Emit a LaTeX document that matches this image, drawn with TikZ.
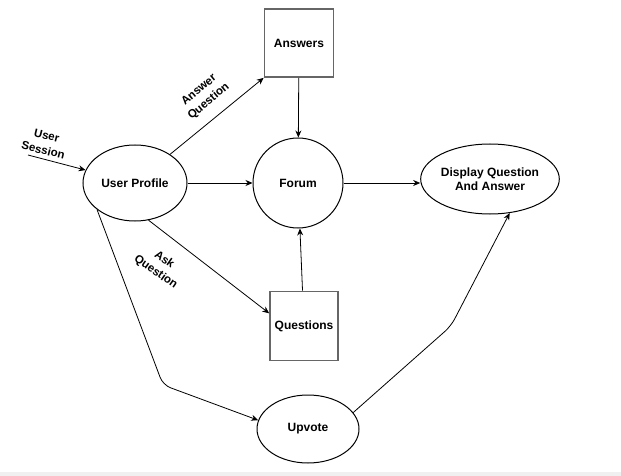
\documentclass[tikz,border=0pt]{standalone}
\usepackage{fontspec}
\setmainfont{Liberation Sans}
\usetikzlibrary{shapes.geometric,arrows.meta}
\tikzset{
  txt/.style={font=\bfseries\fontsize{12}{14}\selectfont},
  bubble/.style={txt,draw,ellipse,line width=1pt,inner sep=0pt},
  store/.style={txt,draw=black!60,line width=1.6pt,inner sep=0pt},
  lbl/.style={font=\bfseries\fontsize{11.5}{15}\selectfont,align=center,inner sep=0pt},
  flow/.style={->,line width=0.8pt}
}
\begin{document}
\begin{tikzpicture}[x=1pt,y=-1pt,>={Stealth[length=7pt,width=6pt]}]
\useasboundingbox (0,0) rectangle (621,476);
\fill[black!6] (0,472) rectangle (621,476);
\node[bubble,minimum width=104pt,minimum height=76pt] (profile) at (135,183) {User Profile};
\node[bubble,circle,minimum size=90pt] (forum) at (298,183) {Forum};
\node[store,minimum width=69pt,minimum height=68pt] (answers) at (299,43) {Answers};
\node[store,minimum width=68pt,minimum height=69pt] (questions) at (304,326) {Questions};
\node[bubble,minimum width=130pt,minimum height=70pt,align=center] (display) at (490,179) {Display Question\\And Answer};
\node[bubble,minimum width=102pt,minimum height=68pt] (upvote) at (308,429) {Upvote};
\coordinate (session) at (28,155);
\coordinate (bendA) at (163,385);
\coordinate (bendB) at (451,326);
\node[lbl,rotate=-14] (sessionlbl) at (45,143) {User\\Session};
\node[lbl,rotate=40] (answerlbl) at (204,96) {Answer\\Question};
\node[lbl,rotate=-35] (asklbl) at (160,266) {Ask\\Question};
\draw[flow] (session) -- (profile);
\draw[flow] (profile) -- (answers.south west);
\draw[flow] (profile) -- (forum);
\draw[flow] (answers) -- (forum);
\draw[flow] (questions) -- (forum);
\draw[flow] (forum.east) -- (forum.east -| display.west);
\draw[flow] (profile.-70) -- (questions.160);
\draw[flow,rounded corners=8pt] (profile.215) -- (bendA) -- (upvote.170);
\draw[flow,rounded corners=8pt] (upvote.20) -- (bendB) -- (display.-60);
\end{tikzpicture}
\end{document}
